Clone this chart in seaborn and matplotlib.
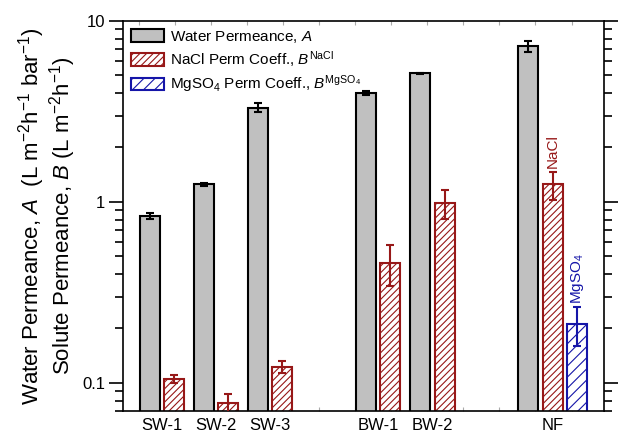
import numpy as np
import pandas as pd
import matplotlib
matplotlib.use("Agg")
import matplotlib.pyplot as plt
import seaborn as sns
from matplotlib.patches import Patch

# ---- data ----
categories = ["SW-1", "SW-2", "SW-3", "BW-1", "BW-2", "NF"]
cat_pos = [0, 1, 2, 4, 5, 7]
water_A = [0.84, 1.25, 3.32, 4.00, 5.14, 7.28]
water_A_err = [0.03, 0.03, 0.18, 0.12, 0.05, 0.50]
nacl_B = [0.105, 0.0773, 0.123, 0.462, 0.987, 1.25]
nacl_B_err = [0.005, 0.0095, 0.009, 0.12, 0.18, 0.22]
mgso4_cats = ["NF"]
mgso4_B = [0.212]
mgso4_B_err = [0.052]

GRAY = "#c0c0c0"
RED = "#971818"
BLUE = "#1515a8"

sns.set_theme(style="ticks")
plt.rcParams["font.family"] = ["Liberation Sans", "DejaVu Sans"]
plt.rcParams["mathtext.fontset"] = "custom"
plt.rcParams["mathtext.rm"] = "Liberation Sans"
plt.rcParams["mathtext.it"] = "Liberation Sans:italic"
plt.rcParams["mathtext.bf"] = "Liberation Sans:bold"
plt.rcParams["hatch.linewidth"] = 0.8
for k in ["text.color", "axes.labelcolor", "xtick.color", "ytick.color",
          "xtick.labelcolor", "ytick.labelcolor"]:
    plt.rcParams[k] = "black"

fig = plt.figure(figsize=(6.18, 4.37), dpi=100)
ax = fig.add_axes([0.199, 0.0595, 0.778, 0.8925])
ax.set_yscale("log")

w = 0.37
off = 0.225
pos_map = dict(zip(categories, cat_pos))
gx = [pos_map[c] - off for c in categories]
rx = [pos_map[c] + off for c in categories]
bx = [pos_map[c] + 3 * off for c in mgso4_cats]

def draw(xs, vals, face, edge, hatch):
    n0 = len(ax.patches)
    df = pd.DataFrame({"x": xs, "y": vals})
    sns.barplot(data=df, x="x", y="y", native_scale=True, width=w,
                errorbar=None, color=face, ax=ax)
    new = ax.patches[n0:]
    for p in new:
        p.set_facecolor(face)
        p.set_edgecolor(edge)
        p.set_linewidth(1.5)
        if hatch:
            p.set_hatch(hatch)
    return new

gp = draw(gx, water_A, GRAY, "black", None)
rp = draw(rx, nacl_B, "white", RED, "/////")
bp = draw(bx, mgso4_B, "white", BLUE, "///")

ax.errorbar(gx, water_A, yerr=water_A_err, fmt="none", ecolor="black",
            elinewidth=1.5, capsize=3.2, capthick=1.5, zorder=5)
ax.errorbar(rx, nacl_B, yerr=nacl_B_err, fmt="none", ecolor=RED,
            elinewidth=1.5, capsize=3.2, capthick=1.5, zorder=5)
ax.errorbar(bx, mgso4_B, yerr=mgso4_B_err, fmt="none", ecolor=BLUE,
            elinewidth=1.5, capsize=3.2, capthick=1.5, zorder=5)

# labels on NF bars
ax.annotate("NaCl", (rx[-1], nacl_B[-1] + nacl_B_err[-1]), xytext=(0, 3),
            textcoords="offset points", rotation=90, ha="center", va="bottom",
            color=RED, fontsize=11)
ax.annotate("MgSO$_4$", (bx[-1], mgso4_B[-1] + mgso4_B_err[-1]), xytext=(0, 2),
            textcoords="offset points", rotation=90, ha="center", va="bottom",
            color=BLUE, fontsize=11)

ax.set_ylim(0.07, 10)
ax.set_xlim(-0.72, 8.17)

tick_pos = [p for p in cat_pos[:-1]] + [cat_pos[-1] + off]
ax.set_xticks(tick_pos)
ax.set_xticklabels(categories, fontsize=12)
ax.tick_params(axis="x", which="major", length=0, pad=5)
ax.set_xticks(np.arange(-0.426, 8.2, 2 / 3), minor=True)
ax.tick_params(axis="x", which="minor", direction="in", length=3,
               width=0.8, color="#aaaaaa", top=True, bottom=True)
ax.set_xlabel("")

ax.set_yticks([0.1, 1, 10])
ax.set_yticklabels(["0.1", "1", "10"], fontsize=12)
ax.tick_params(axis="y", which="major", direction="out", length=10, width=1.2,
               left=True, right=True, labelright=False, pad=3)
ax.tick_params(axis="y", which="minor", direction="out", length=6, width=1.2,
               left=True, right=True, labelleft=False)
ax.yaxis.set_minor_locator(matplotlib.ticker.LogLocator(base=10, subs=np.arange(2, 10)))
ax.yaxis.set_minor_formatter(matplotlib.ticker.NullFormatter())

for s in ax.spines.values():
    s.set_visible(True)
    s.set_linewidth(1.2)
    s.set_color("black")

ax.set_ylabel("Water Permeance, $\\mathit{A}$  (L m$^{-2}$h$^{-1}$ bar$^{-1}$)\n"
              "Solute Permeance, $\\mathit{B}$ (L m$^{-2}$h$^{-1}$)",
              fontsize=16, linespacing=1.0, labelpad=3)

handles = [
    Patch(facecolor=GRAY, edgecolor="black", linewidth=1.5),
    Patch(facecolor="white", edgecolor=RED, linewidth=1.5, hatch="/////"),
    Patch(facecolor="white", edgecolor=BLUE, linewidth=1.5, hatch="///"),
]
labels = ["Water Permeance, $\\mathit{A}$",
          "NaCl Perm Coeff., $\\mathit{B}^{\\mathrm{NaCl}}$",
          "MgSO$_4$ Perm Coeff., $\\mathit{B}^{\\mathrm{MgSO_4}}$"]
ax.legend(handles, labels, loc="upper left", frameon=False, fontsize=11,
          handlelength=2.2, handleheight=0.9, handletextpad=0.4,
          labelspacing=0.3, borderaxespad=0.3, borderpad=0.2)

fig.savefig("out.png", dpi=100)
